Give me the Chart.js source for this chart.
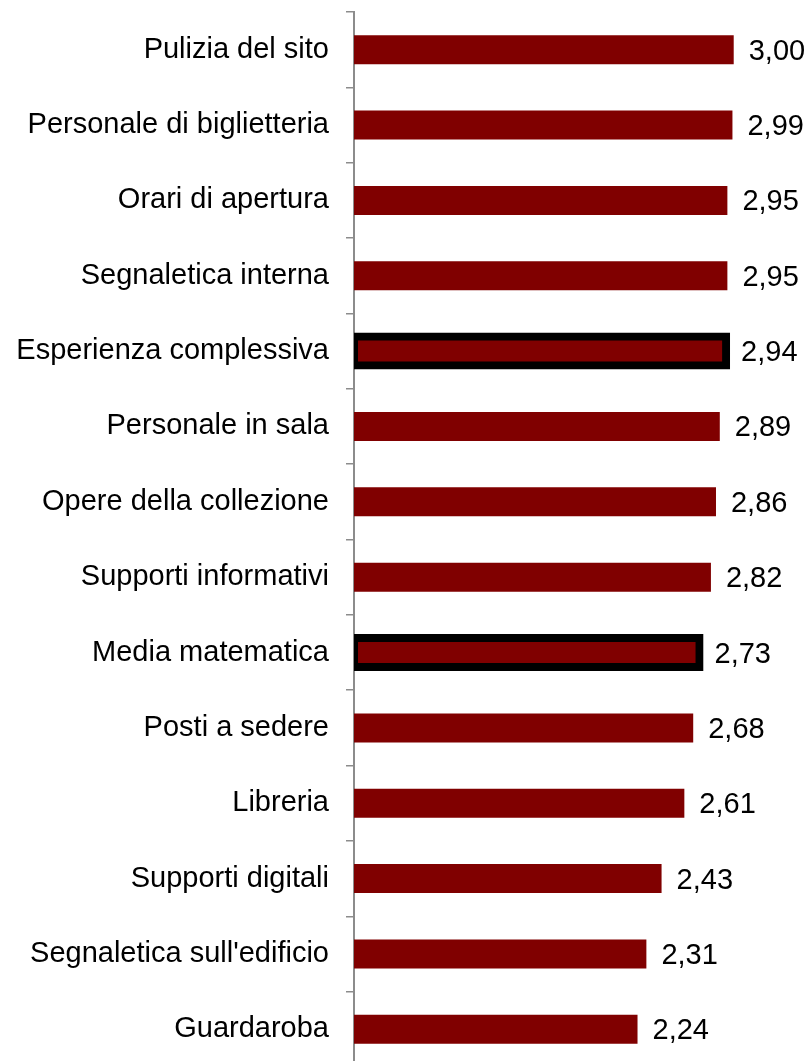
<!DOCTYPE html>
<html>
<head>
<meta charset="utf-8">
<script src="https://cdn.jsdelivr.net/npm/chart.js@4/dist/chart.umd.min.js"></script>
<style>
  html, body { margin: 0; padding: 0; background: #ffffff; overflow: hidden; }
  #wrap { position: absolute; left: 0; top: 0; width: 809px; height: 1070px; }
</style>
</head>
<body>
<div id="wrap"><canvas id="c"></canvas></div>
<script>
// ---- data ----
const categories = [
  "Pulizia del sito",
  "Personale di biglietteria",
  "Orari di apertura",
  "Segnaletica interna",
  "Esperienza complessiva",
  "Personale in sala",
  "Opere della collezione",
  "Supporti informativi",
  "Media matematica",
  "Posti a sedere",
  "Libreria",
  "Supporti digitali",
  "Segnaletica sull'edificio",
  "Guardaroba"
];
const values = [3.00, 2.99, 2.95, 2.95, 2.94, 2.89, 2.86, 2.82, 2.73, 2.68, 2.61, 2.43, 2.31, 2.24];
const highlighted = ["Esperienza complessiva", "Media matematica"];

const FONT = "'Liberation Sans', Arial, sans-serif";
const isHi = (i) => highlighted.includes(categories[i]);

const valueLabels = {
  id: 'valueLabels',
  afterDatasetsDraw(chart) {
    const ctx = chart.ctx;
    const meta = chart.getDatasetMeta(0);
    ctx.save();
    ctx.font = "29px " + FONT;
    ctx.fillStyle = "#000000";
    ctx.textAlign = "left";
    ctx.textBaseline = "middle";
    meta.data.forEach((el, i) => {
      const txt = values[i].toFixed(2).replace('.', ',');
      ctx.fillText(txt, el.x + 15, el.y + 2);
    });
    ctx.restore();
  }
};

new Chart(document.getElementById('c'), {
  type: 'bar',
  data: {
    labels: categories,
    datasets: [{
      data: values,
      backgroundColor: '#800000',
      borderColor: '#000000',
      borderWidth: (c) => isHi(c.dataIndex) ? 8 : 0,
      inflateAmount: (c) => isHi(c.dataIndex) ? 4 : 0,
      borderSkipped: false,
      barThickness: 29,
      clip: 0
    }]
  },
  options: {
    indexAxis: 'y',
    responsive: true,
    maintainAspectRatio: false,
    animation: false,
    layout: { padding: { top: 12, right: 12, bottom: 3, left: 0 } },
    plugins: {
      legend: { display: false },
      tooltip: { enabled: false }
    },
    scales: {
      x: {
        display: false,
        min: 0,
        max: 3.5
      },
      y: {
        offset: true,
        afterFit(scale) {
          scale.width = 354;
          scale.paddingTop = 0;
          scale.paddingBottom = 0;
        },
        grid: {
          offset: true,
          drawOnChartArea: false,
          drawTicks: true,
          tickLength: 8,
          color: '#8c8c8c',
          lineWidth: 1.5
        },
        border: { display: true, color: '#8c8c8c', width: 2 },
        ticks: {
          color: '#000000',
          padding: 17,
          font: { family: FONT, size: 29 }
        }
      }
    }
  },
  plugins: [valueLabels]
});
</script>
</body>
</html>
